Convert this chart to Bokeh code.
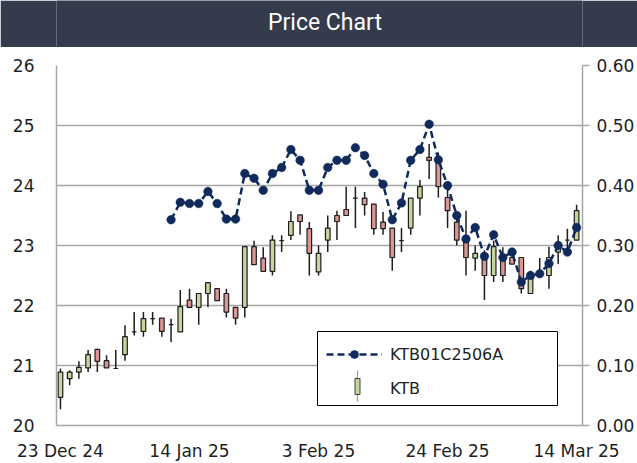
from bokeh.plotting import figure
from bokeh.models import (Range1d, LinearAxis, FixedTicker,
                          NumeralTickFormatter, Legend, LegendItem, BoxAnnotation, Label)
from bokeh.layouts import column
from bokeh.embed import file_html
from bokeh.resources import INLINE
from bokeh.core.properties import value

nan = float("nan")

# ---- data -------------------------------------------------------------
tick_positions = [0, 14, 28, 42, 56]
tick_labels = ["23 Dec 24", "14 Jan 25", "3 Feb 25", "24 Feb 25", "14 Mar 25"]
price_ticks = [20, 21, 22, 23, 24, 25, 26]
rate_ticks = [0.0, 0.1, 0.2, 0.3, 0.4, 0.5, 0.6]

ktb_open = [20.47, 20.78, 20.89, 20.96, 21.27, 21.08, 20.95, 21.18, 21.56, 21.57,
            21.78, 21.79, 21.68, 21.56, 22.09, 21.97, 22.20, 22.28, 22.20, 21.97,
            21.97, 22.98, 22.79, 22.57, 23.08, 23.17, 23.51, 23.28, 22.56, 23.09,
            23.50, 23.60, 23.79, 23.79, 23.69, 23.39, 23.29, 23.08, 23.29, 23.79,
            24.47, 24.43, 23.80, 23.39, 23.09, 22.79, 22.80, 22.50, 22.80, 22.80,
            22.80, 22.20, 22.53, 22.50, 22.89, 23.09, 23.09]
ktb_close = [20.89, 20.89, 20.97, 21.18, 21.07, 20.96, 20.95, 21.48, 21.56, 21.78,
             21.78, 21.57, 21.68, 21.98, 21.97, 22.20, 22.38, 22.08, 21.89, 21.79,
             22.98, 22.68, 22.57, 23.09, 23.08, 23.40, 23.40, 22.87, 22.87, 23.29,
             23.40, 23.50, 23.79, 23.68, 23.28, 23.28, 22.80, 23.08, 23.79, 23.98,
             24.42, 23.98, 23.58, 23.09, 22.80, 22.87, 22.50, 22.98, 22.50, 22.69,
             22.28, 22.50, 22.53, 22.80, 22.97, 23.09, 23.58]
ktb_high = [20.95, 20.92, 21.07, 21.26, 21.28, 21.17, 21.26, 21.67, 21.89, 21.89,
            21.89, 21.79, 21.78, 22.26, 22.28, 22.20, 22.38, 22.28, 22.28, 21.97,
            22.98, 23.08, 22.97, 23.17, 23.17, 23.57, 23.51, 23.39, 23.00, 23.50,
            23.58, 23.98, 23.98, 23.89, 23.69, 23.56, 23.29, 23.29, 23.79, 24.09,
            24.69, 24.55, 23.98, 23.50, 23.58, 23.00, 22.92, 23.08, 22.97, 22.92,
            22.80, 22.58, 22.79, 22.98, 23.17, 23.28, 23.68]
ktb_low = [20.27, 20.67, 20.78, 20.89, 20.89, 20.96, 20.95, 21.08, 21.50, 21.48,
           21.68, 21.48, 21.39, 21.56, 21.97, 21.68, 21.97, 22.08, 21.80, 21.68,
           21.80, 22.68, 22.57, 22.50, 22.89, 23.09, 23.18, 22.50, 22.50, 22.89,
           23.09, 23.50, 23.29, 23.50, 23.18, 23.18, 22.58, 22.89, 23.18, 23.50,
           24.11, 23.80, 23.29, 23.00, 22.50, 22.58, 22.09, 22.39, 22.39, 22.69,
           22.20, 22.20, 22.50, 22.28, 22.69, 22.89, 23.09]
opt_price = [nan] * 12 + [
    0.343, 0.372, 0.370, 0.370, 0.390, 0.370, 0.344, 0.344, 0.420, 0.412,
    0.392, 0.420, 0.430, 0.460, 0.442, 0.392, 0.392, 0.430, 0.442, 0.442,
    0.463, 0.450, 0.420, 0.402, 0.343, 0.371, 0.442, 0.460, 0.502, 0.443,
    0.400, 0.350, 0.311, 0.330, 0.282, 0.318, 0.280, 0.289, 0.239, 0.250,
    0.253, 0.270, 0.300, 0.289, 0.330]

# ---- styles -----------------------------------------------------------
DARK = "#333b4c"
GRID = "#a6a6a6"
UP = "#c4d79b"
DOWN = "#d99694"
NAVY = "#102a5c"
TXT = "#1e1e1e"
FONT = "DejaVu Sans"

idx = list(range(len(ktb_open)))
body_top = [max(o, c) for o, c in zip(ktb_open, ktb_close)]
body_bot = [min(o, c) for o, c in zip(ktb_open, ktb_close)]
body_col = [UP if c > o else (DOWN if c < o else "#1e1e1e") for o, c in zip(ktb_open, ktb_close)]

# ---- title bar --------------------------------------------------------
bar = figure(width=637, height=47, x_range=(0, 1), y_range=(0, 1),
             toolbar_location=None, output_backend="svg", min_border=0,
             x_axis_location=None, y_axis_location=None,
             background_fill_color=DARK, border_fill_color=DARK,
             outline_line_color=None)
bar.grid.visible = False
bar.add_layout(Label(x=0.5104, y=0.53, text="Price Chart", text_align="center",
                     text_baseline="middle", text_color="white",
                     text_font="Roboto", text_font_size="23px"))
bar.add_layout(BoxAnnotation(left=0, right=6, top=0, bottom=47,
                             left_units="canvas", right_units="canvas",
                             top_units="canvas", bottom_units="canvas",
                             fill_color="white", fill_alpha=1, line_color=None,
                             level="overlay"))

# ---- main chart -------------------------------------------------------
p = figure(width=637, height=416, x_range=Range1d(-0.43, 56.64),
           y_range=Range1d(20, 26), toolbar_location=None, output_backend="svg",
           min_border_left=56, min_border_right=52, min_border_top=18,
           min_border_bottom=36, outline_line_color=None,
           background_fill_color="white", border_fill_color="white")
p.extra_y_ranges = {"rate": Range1d(0, 0.6)}

p.xgrid.visible = False
p.ygrid.grid_line_color = GRID
p.ygrid.grid_line_width = 1.5

p.xaxis.ticker = FixedTicker(ticks=tick_positions)
p.xaxis.major_label_overrides = dict(zip(tick_positions, tick_labels))
p.yaxis.ticker = FixedTicker(ticks=price_ticks)
for ax in (p.xaxis[0], p.yaxis[0]):
    ax.axis_line_color = GRID
    ax.axis_line_width = 1.5
    ax.major_tick_out = 0
    ax.major_tick_in = 0
    ax.minor_tick_out = 0
    ax.minor_tick_in = 0
    ax.major_label_text_font = FONT
    ax.major_label_text_font_size = "17px"
    ax.major_label_text_color = TXT
p.xaxis.major_label_standoff = 15
p.yaxis.major_label_standoff = 22

rax = LinearAxis(y_range_name="rate", ticker=FixedTicker(ticks=rate_ticks),
                 formatter=NumeralTickFormatter(format="0.00"))
rax.axis_line_color = GRID
rax.axis_line_width = 1.5
rax.major_tick_line_color = GRID
rax.major_tick_line_width = 1.5
rax.major_tick_out = 7
rax.major_tick_in = 0
rax.minor_tick_out = 0
rax.minor_tick_in = 0
rax.major_label_standoff = 7
rax.major_label_text_font = FONT
rax.major_label_text_font_size = "17px"
rax.major_label_text_color = TXT
p.add_layout(rax, "right")

# candles
p.segment(x0=idx, y0=ktb_low, x1=idx, y1=ktb_high, line_color="#1e1e1e", line_width=1.5)
p.vbar(x=idx, width=0.5, top=body_top, bottom=body_bot, fill_color=body_col,
       line_color="#1e1e1e", line_width=1.2)

# option line
ln = p.line(x=idx, y=opt_price, y_range_name="rate", line_color=NAVY,
            line_width=2.5, line_dash="7 4")
sc = p.scatter(x=idx, y=opt_price, y_range_name="rate", size=8.5, marker="circle",
               fill_color=NAVY, line_color=NAVY, line_alpha=0.6)

# legend frame (screen units: x from frame left, y from frame bottom)
p.add_layout(BoxAnnotation(left=261, right=501, top=94, bottom=20,
                           left_units="screen", right_units="screen",
                           top_units="screen", bottom_units="screen",
                           fill_color="white", fill_alpha=1, line_color="black",
                           line_alpha=1, line_width=1))
# candle icon for the KTB legend entry
p.add_layout(BoxAnnotation(left=300.4, right=301.6, top=55, bottom=24,
                           left_units="screen", right_units="screen",
                           top_units="screen", bottom_units="screen",
                           fill_color="#9a9a9a", fill_alpha=1, line_color=None))
p.add_layout(BoxAnnotation(left=298.5, right=303.5, top=47, bottom=31,
                           left_units="screen", right_units="screen",
                           top_units="screen", bottom_units="screen",
                           fill_color=UP, fill_alpha=1, line_color="#404040",
                           line_alpha=1, line_width=1))

legend = Legend(items=[LegendItem(label=value("KTB01C2506A"), renderers=[ln, sc]),
                       LegendItem(label=value("KTB"), renderers=[])],
                location=(270, 27), padding=0, spacing=14, margin=0,
                glyph_width=56, glyph_height=20, label_height=20, label_width=150,
                label_standoff=8, border_line_color=None,
                background_fill_alpha=0,
                label_text_font=FONT, label_text_font_size="16px",
                label_text_color=TXT)
p.add_layout(legend, "center")

layout = column(bar, p, spacing=0)
open("out.html", "w").write(file_html(layout, INLINE))
